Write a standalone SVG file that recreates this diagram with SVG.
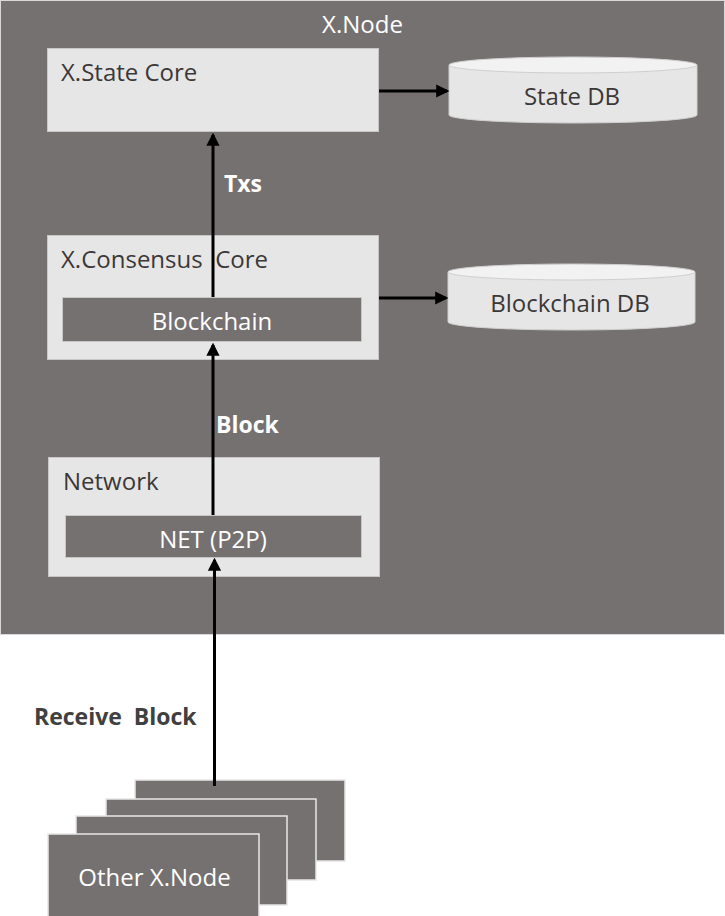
<svg xmlns="http://www.w3.org/2000/svg" width="725" height="916" viewBox="0 0 725 916">
<style>
text{font-family:"Open Sans","Noto Sans","DejaVu Sans",sans-serif}
.bg{fill:#767171;stroke:#D9D9D9;stroke-width:1}
.box{fill:#E7E6E6;stroke:#C8C6C6;stroke-width:1}
.inner{fill:#767171;stroke:#C8C6C6;stroke-width:1}
.card{fill:#767171;stroke:#E7E6E6;stroke-width:1.5}
.dark{fill:#3B3838;font-size:24px}
.white{fill:#FFFFFF;font-size:24px}
.lbl{fill:#FFFFFF;font-size:23px;font-weight:bold}
.cylb{fill:#E7E6E6;stroke:#D0CECE;stroke-width:1}
.cylt{fill:#F2F2F2;stroke:#D0CECE;stroke-width:1}
.conn{stroke:#000;stroke-width:3;fill:none;marker-end:url(#ah)}
</style>
<defs>
<marker id="ah" markerWidth="4.4" markerHeight="4.4" refX="3.6" refY="2.2" orient="auto" markerUnits="strokeWidth">
<path d="M0,0 L4.4,2.2 L0,4.4 Z" fill="#000"/>
</marker>
</defs>
<g id="xnode">
<rect class="bg" x="0.5" y="0.5" width="724" height="634"/>
<text class="white" x="362.5" y="33" text-anchor="middle">X.Node</text>
</g>
<g id="state-core">
<rect class="box" x="47.5" y="48.5" width="331" height="83"/>
<text class="dark" x="61" y="81">X.State Core</text>
</g>
<g id="state-db">
<path class="cylb" d="M449,65 L449,115 A124,8 0 0 0 697,115 L697,65 Z"/>
<ellipse class="cylt" cx="573" cy="65" rx="124" ry="8"/>
<text class="dark" x="572" y="105" text-anchor="middle">State DB</text>
</g>
<g id="consensus-core">
<rect class="box" x="47.5" y="235.5" width="331" height="124"/>
<text class="dark" x="61" y="268" xml:space="preserve">X.Consensus  Core</text>
</g>
<g id="blockchain">
<rect class="inner" x="62.5" y="297.5" width="299" height="44"/>
<text class="white" x="212" y="330" text-anchor="middle">Blockchain</text>
</g>
<g id="blockchain-db">
<path class="cylb" d="M448,272 L448,322 A123.5,8 0 0 0 695,322 L695,272 Z"/>
<ellipse class="cylt" cx="571.5" cy="272" rx="123.5" ry="8"/>
<text class="dark" x="570" y="312" text-anchor="middle">Blockchain DB</text>
</g>
<g id="network">
<rect class="box" x="48.5" y="457.5" width="331" height="119"/>
<text class="dark" x="63" y="490">Network</text>
</g>
<g id="net-p2p">
<rect class="inner" x="65.5" y="515.5" width="296" height="42"/>
<text class="white" x="213" y="548" text-anchor="middle">NET (P2P)</text>
</g>
<g id="other-nodes">
<rect class="card" x="135" y="780" width="210" height="81"/>
<rect class="card" x="106" y="799" width="210" height="81"/>
<rect class="card" x="76" y="816" width="211" height="89"/>
<rect class="card" x="48" y="834" width="211" height="90"/>
<text class="white" x="154.5" y="886" text-anchor="middle">Other X.Node</text>
</g>
<g id="connectors">
<line class="conn" x1="379" y1="91" x2="447" y2="91"/>
<line class="conn" x1="379" y1="298" x2="446" y2="298"/>
<line class="conn" x1="213" y1="297" x2="213" y2="135"/>
<line class="conn" x1="213" y1="515" x2="213" y2="345"/>
<line class="conn" x1="214.5" y1="786" x2="214.5" y2="560"/>
<text class="lbl" x="224" y="192">Txs</text>
<text class="lbl" x="216" y="433">Block</text>
<text class="lbl" x="34" y="725" style="fill:#404040" xml:space="preserve">Receive  Block</text>
</g>
</svg>
